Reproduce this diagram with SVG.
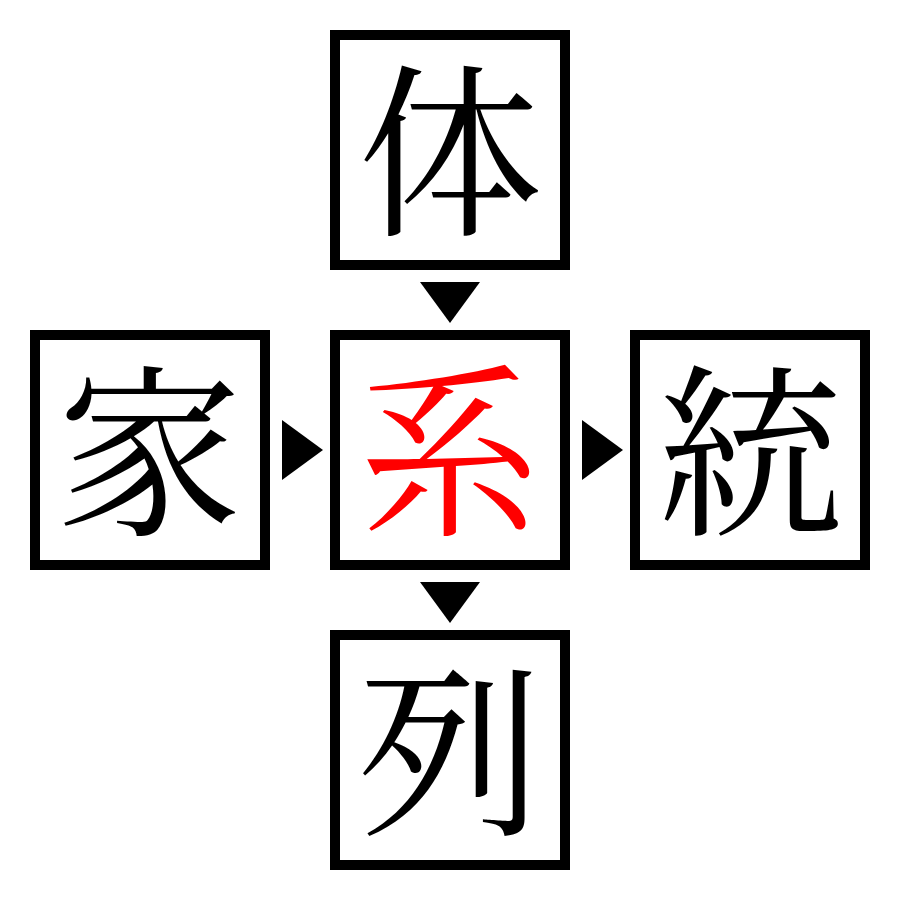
<svg xmlns="http://www.w3.org/2000/svg" width="900" height="900" viewBox="0 0 900 900">
<style>
.box{fill:#fff;stroke:#000;stroke-width:10}
.ch{font-family:"Noto Serif CJK JP","Noto Serif CJK SC","Liberation Serif","Noto Sans CJK JP",serif;font-size:185px;text-anchor:middle;dominant-baseline:central;fill:#000}
.hl{fill:#f00}
.arr{fill:#000}
</style>
<rect width="900" height="900" fill="#fff"/>
<g id="connectors">
<polygon class="arr" points="420,282 480,282 450,323"/>
<polygon class="arr" points="282,420 282,480 323,450"/>
<polygon class="arr" points="582,420 582,480 623,450"/>
<polygon class="arr" points="420,582 480,582 450,623"/>
</g>
<g id="node-top"><rect class="box" x="335" y="35" width="230" height="230"/><text class="ch" x="450" y="141">体</text></g>
<g id="node-left"><rect class="box" x="35" y="335" width="230" height="230"/><text class="ch" x="150" y="441">家</text></g>
<g id="node-center"><rect class="box" x="335" y="335" width="230" height="230"/><text class="ch hl" x="450" y="441">系</text></g>
<g id="node-right"><rect class="box" x="635" y="335" width="230" height="230"/><text class="ch" x="750" y="441">統</text></g>
<g id="node-bottom"><rect class="box" x="335" y="635" width="230" height="230"/><text class="ch" x="450" y="741">列</text></g>
</svg>
